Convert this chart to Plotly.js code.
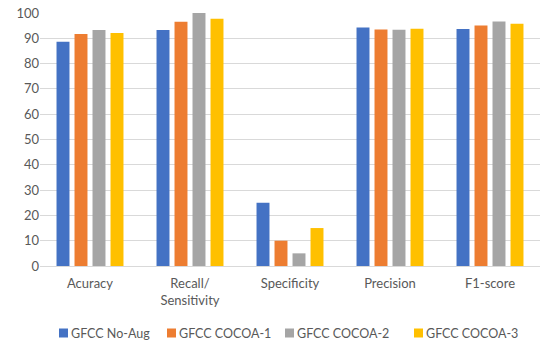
<!DOCTYPE html>
<html>
<head>
<meta charset="utf-8">
<script src="https://cdn.plot.ly/plotly-3.0.1.min.js"></script>
<style>html,body{margin:0;padding:0;background:#fff;}#chart{width:550px;height:344px;}</style>
</head>
<body>
<div id="chart"></div>
<script>
const categories = ["Acuracy", "Recall/<br>Sensitivity", "Specificity", "Precision", "F1-score"];
const seriesNames = ["GFCC No-Aug", "GFCC COCOA-1", "GFCC COCOA-2", "GFCC COCOA-3"];
const noAug  = [88.6, 93.3, 25, 94.3, 93.7];
const cocoa1 = [91.7, 96.5, 10, 93.5, 95.1];
const cocoa2 = [93.3, 100, 5, 93.4, 96.6];
const cocoa3 = [92.1, 97.7, 15, 93.8, 95.8];
const colors = ["#4472C4", "#ED7D31", "#A5A5A5", "#FFC000"];
const values = [noAug, cocoa1, cocoa2, cocoa3];

const traces = values.map((v, i) => ({
  type: "bar",
  name: seriesNames[i],
  x: categories,
  y: v,
  marker: {color: colors[i]},
  hoverinfo: "none"
}));

// Manual legend (Excel-style: small swatch, text close to it)
const W = 550, H = 344, ML = 40, MR = 10, MT = 13, MB = 78;
const pw = W - ML - MR, ph = H - MT - MB;
const toPx = px => (px - ML) / pw;
const toPy = py => (H - MB - py) / ph;
const legendSwatchX = [59, 167, 285, 414];
const legendY = 333;
const shapes = [], annotations = [];
seriesNames.forEach((n, i) => {
  const x0 = legendSwatchX[i];
  shapes.push({type: "rect", xref: "paper", yref: "paper",
    x0: toPx(x0), x1: toPx(x0 + 9), y0: toPy(legendY + 4.5), y1: toPy(legendY - 4.5),
    fillcolor: colors[i], line: {width: 0}});
  annotations.push({xref: "paper", yref: "paper", x: toPx(x0 + 10), y: toPy(legendY),
    xanchor: "left", yanchor: "middle", showarrow: false, text: n,
    font: {size: 12.5, color: "#595959"}});
});

const layout = {
  width: W, height: H,
  margin: {l: ML, r: MR, t: MT, b: MB, autoexpand: false},
  paper_bgcolor: "#fff", plot_bgcolor: "#fff",
  font: {family: "Lato, Open Sans, sans-serif", size: 13, color: "#595959"},
  barmode: "group",
  bargap: 0.28,
  bargroupgap: 0.28,
  showlegend: false,
  shapes: shapes,
  annotations: annotations,
  xaxis: {type: "category", showgrid: false, showline: false, ticks: "", ticklabelstandoff: 8,
          tickfont: {size: 13, color: "#595959"}, fixedrange: true},
  yaxis: {range: [0, 100], dtick: 10, showgrid: true, gridcolor: "#D9D9D9", gridwidth: 1,
          zeroline: true, zerolinecolor: "#D9D9D9", zerolinewidth: 1, showline: false,
          ticks: "", ticklen: 0, tickfont: {size: 13, color: "#595959"}, fixedrange: true}
};

Plotly.newPlot("chart", traces, layout, {displayModeBar: false, staticPlot: true});
</script>
</body>
</html>
